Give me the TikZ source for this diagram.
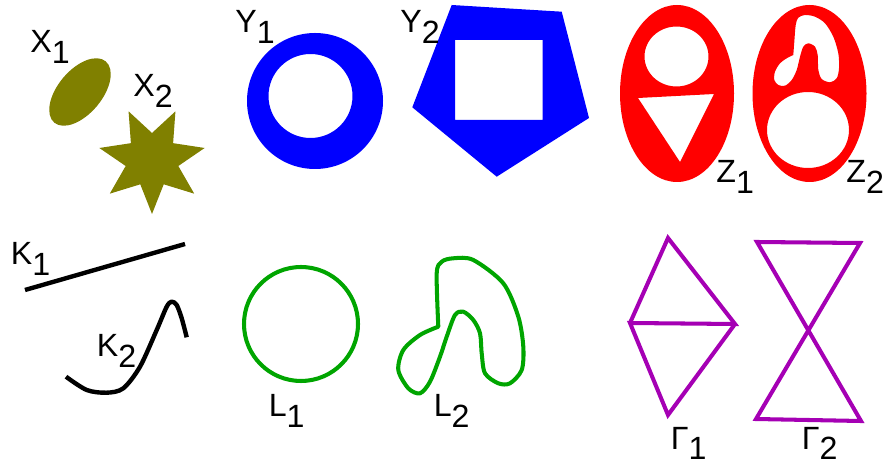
\documentclass[tikz,border=0pt]{standalone}
\usepackage{fontspec}
\setmainfont{Liberation Sans}
\definecolor{xolive}{RGB}{128,128,0}
\definecolor{lgreen}{RGB}{0,165,0}
\definecolor{gpurple}{RGB}{165,0,180}
\newcommand{\idx}[2]{#1\raisebox{-0.21cm}{#2}}
\begin{document}
\begin{tikzpicture}[x=0.02cm, y=-0.02cm,
  lbl/.style={anchor=base west, inner sep=0, font=\fontsize{18.3}{20}\selectfont},
  curve/.style={line width=2.5pt, line cap=round, line join=round}]
	\useasboundingbox (0,0) rectangle (885,465);
	% top row: filled regions
	\fill[xolive, rotate around={50:(80,92)}] (80,92) ellipse (40 and 22);
	\begin{scope}[shift={(152,160)}]
		\fill[xolive] (90:54) \foreach \i [evaluate=\i as \r using {27*(2-mod(\i,2))}] in {1,...,13} { -- ({90+\i*180/7}:\r) } -- cycle;
	\end{scope}
	\fill[blue, even odd rule] (315,101) circle (68) (310.5,96) circle (42);
	\fill[blue, even odd rule] (451.7,5) -- (561.7,11.7) -- (589,118) -- (496.7,176.7) -- (412.3,107.3) -- cycle
		(455,40) rectangle (542.7,120);
	\fill[red, even odd rule] (677,93.5) ellipse (57 and 88.5) (676.5,56.5) ellipse (32 and 30)
		(638,98) -- (714,94) -- (680,162) -- cycle;
	\fill[red, even odd rule] (809.5,93.5) ellipse (57 and 88.5) (808,130) ellipse (41 and 38)
		plot[smooth] coordinates {(793.3,55) (794.3,41.7) (795.7,25) (798.3,17.7) (805,15) (815,16.7)
			(825,23.3) (833.3,36.7) (838.3,53.3) (839,68.3) (836.7,78.3) (830,82.3) (821.7,79) (818.3,70)
			(817.7,55) (815,46.7) (808.3,43.3) (803.3,46.7) (800,56.7) (796.7,70) (791.7,80) (785,85.7)
			(778.3,85) (774.3,80) (775,71.7) (780,63.3) (786.7,58.3) (793.3,55)} -- cycle;
	% bottom row: curves
	\draw[curve, line cap=butt] (25,290) -- (185,244);
	\draw[curve, line cap=butt] plot[smooth] coordinates {(66,376.7) (86.7,390) (106.7,392.7) (123.3,388.3)
		(140,366.7) (156.7,330) (166.7,306.7) (171.7,301.7) (176.7,305) (181.7,318.3) (186.7,337.3)};
	\draw[curve, lgreen, line width=2.3pt] (301,324) circle (57);
	\draw[curve, lgreen, line width=2.3pt] plot[smooth] coordinates {(438.3,326.7) (436.7,273.3) (441.7,261.7)
		(453.3,258.3) (473.3,260) (503.3,283.3) (518.3,316.7) (523.3,346.7) (521.7,370) (510,383.3) (498.3,383.3)
		(485,373.3) (481.7,353.3) (480,333.3) (473.3,320) (463.3,311.7) (455,315) (446.7,336.7) (440,356.7)
		(430,381.7) (420,393.3) (408.3,388.3) (398.3,370) (403.3,350) (420,335) (438.3,326.7)} -- cycle;
	\draw[curve, gpurple, line width=2.3pt, line join=miter] (630,323) -- (668,238) -- (735,324) -- (630,323)
		-- (668,415) -- (735,324);
	\draw[curve, gpurple, line width=2.3pt, line join=miter] (757,242) -- (860,243) -- (756,419) -- (861,421) -- cycle;
	% labels
	\node[lbl] (x1lab) at (30,53) {\idx{X}{1}};
	\node[lbl] (x2lab) at (133,97) {\idx{X}{2}};
	\node[lbl] (y1lab) at (235,33) {\idx{Y}{1}};
	\node[lbl] (y2lab) at (400,33) {\idx{Y}{2}};
	\node[lbl] (z1lab) at (716,183) {\idx{Z}{1}};
	\node[lbl] (z2lab) at (846,183) {\idx{Z}{2}};
	\node[lbl] (k1lab) at (10.5,265) {\idx{K}{1}};
	\node[lbl] (k2lab) at (96.5,357) {\idx{K}{2}};
	\node[lbl] (l1lab) at (268.5,417) {\idx{L}{1}};
	\node[lbl] (l2lab) at (433.5,417) {\idx{L}{2}};
	\node[lbl] (g1lab) at (670.5,449) {\idx{Γ}{1}};
	\node[lbl] (g2lab) at (801.5,449) {\idx{Γ}{2}};
\end{tikzpicture}
\end{document}
